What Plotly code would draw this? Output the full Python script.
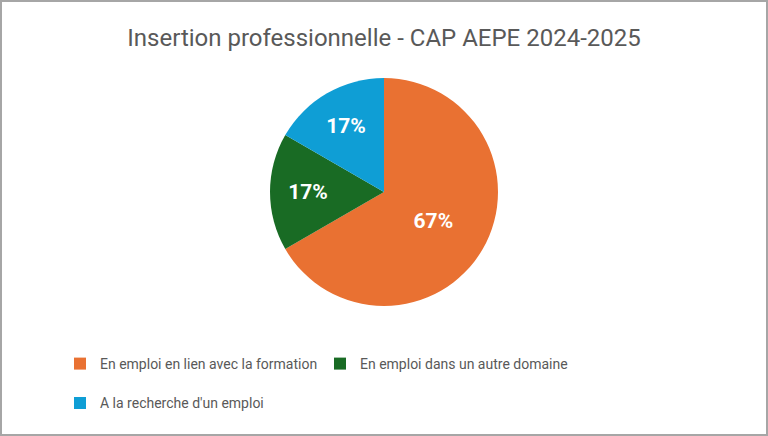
import plotly.graph_objects as go

categories = ["En emploi en lien avec la formation",
              "En emploi dans un autre domaine",
              "A la recherche d'un emploi"]
counts = [4, 1, 1]
colors = ["#E97132", "#196B24", "#0F9ED5"]

W, H = 768, 436
FONT = "Roboto, sans-serif"

# an empty second line on the first-row entries gives the legend rows
# the wide spacing of the original
legend_labels = [c + "<br> " for c in categories[:2]] + categories[2:]

fig = go.Figure()
fig.add_trace(go.Pie(
    labels=legend_labels,
    values=counts,
    sort=False,
    direction="clockwise",
    rotation=0,
    marker=dict(colors=colors, line=dict(color="white", width=0)),
    texttemplate="<b>%{percent:.0%}</b>",
    textposition="inside",
    insidetextorientation="horizontal",
    textfont=dict(color="white", size=21, family=FONT),
    domain=dict(x=[0.2, 0.8], y=[1 - 306 / H, 1 - 78 / H]),
    customdata=categories,
    hovertemplate="%{customdata}<br>%{percent:.0%}<extra></extra>",
))

fig.update_layout(
    width=W, height=H,
    margin=dict(l=0, r=0, t=0, b=0),
    paper_bgcolor="white",
    title=dict(text="Insertion professionnelle - CAP AEPE 2024-2025",
               x=0.5, xanchor="center", y=1 - 38 / H, yanchor="middle",
               font=dict(size=24, color="#595959", family=FONT)),
    legend=dict(orientation="h", x=60 / W, xanchor="left",
                y=1 - 348 / H, yanchor="top", valign="top",
                bgcolor="rgba(0,0,0,0)",
                entrywidth=215, entrywidthmode="pixels",
                font=dict(size=14, color="#595959", family=FONT),
                itemwidth=30, tracegroupgap=0),
    shapes=[dict(type="rect", xref="paper", yref="paper", x0=0, y0=0, x1=1, y1=1,
                 line=dict(color="#A6A6A6", width=4), layer="above")],
)

fig.write_html("out.html", config={"displayModeBar": False},
               post_script="document.body.style.margin='0';document.body.style.overflow='hidden';")
